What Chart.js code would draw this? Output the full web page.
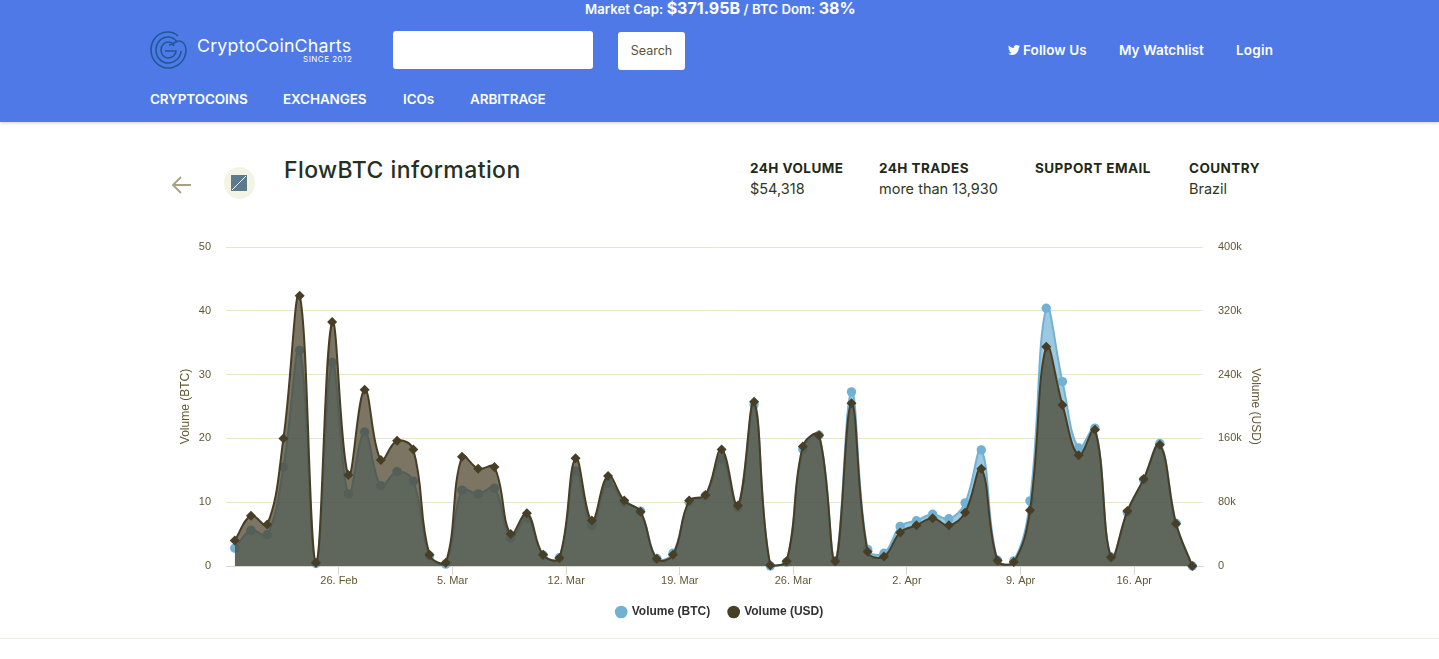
<!DOCTYPE html>
<html>
<head>
<meta charset="utf-8">
<title>FlowBTC information</title>
<script src="https://cdn.jsdelivr.net/npm/chart.js@4"></script>
<style>
html,body{margin:0;padding:0;width:1439px;height:659px;overflow:hidden;background:#fff;font-family:Inter,"Open Sans",sans-serif;}
div,span,a{position:absolute;white-space:nowrap;}
#top{left:0;top:0;width:1439px;height:122px;background:#4e79e6;box-shadow:0 1px 3px rgba(120,120,90,.35);}
.w{color:#fff;font-weight:600;font-size:13.5px;}
.nav{top:91px;letter-spacing:-.1px;}
#cap{left:585px;top:0;font-size:13.2px;line-height:17px;word-spacing:.2px;}
#cap b{font-size:16px;font-weight:700;}
#logoName{left:197px;top:35px;color:#fff;font-size:17.8px;font-weight:400;letter-spacing:.2px;}
#since{left:303px;top:54px;color:#fff;font-size:8px;letter-spacing:.5px;}
#search{left:393px;top:31px;width:200px;height:38px;background:#fff;border-radius:3px;}
#btn{left:618px;top:32px;width:67px;height:38px;background:#fff;border-radius:3px;color:#5a5238;font-size:12.5px;line-height:37px;text-align:center;}
h1{position:absolute;left:284px;top:156px;margin:0;font-size:23px;line-height:28px;font-weight:500;color:#26301f;letter-spacing:.42px;}
.lab{font-size:13.5px;font-weight:700;color:#1f2a16;top:160px;letter-spacing:.45px;}
.val{font-size:14.5px;color:#2f3824;top:180px;}
#wrap{position:absolute;left:170px;top:230px;width:1100px;height:398px;}
#rule{left:0;top:638px;width:1439px;height:1px;background:#efefdc;}
</style>
</head>
<body>
<div id="top"></div>
<div id="cap" class="w">Market Cap: <b>$371.95B</b> / BTC Dom: <b>38%</b></div>
<svg style="position:absolute;left:149px;top:30px" width="39" height="40" viewBox="0 0 39 40" fill="none" stroke="#1d5a94" stroke-width="1.6">
<path d="M29 6C26 3 23 2 19 2C9 2 2 10 2 20C2 30 10 38 19 38C29 38 37 30 37 20C37 15 34 11 30 11C26 11 24 15 20 15"/>
<path d="M28 12C26 9 23 7 19 7C12 7 7 13 7 20C7 27 12 33 19 33C26 33 32 27 32 21"/>
<path d="M25 16C24 13 21 12 19 12C15 12 12 16 12 20C12 24 15 28 19 28C23 28 27 25 27 21L16 21"/>
</svg>
<div id="logoName">CryptoCoinCharts</div>
<div id="since">SINCE 2012</div>
<div id="search"></div>
<div id="btn">Search</div>
<svg style="position:absolute;left:1008px;top:45px" width="12" height="10" viewBox="0 0 24 20"><path fill="#fff" d="M24 2.400c-.9.400-1.800.700-2.800.800 1-.600 1.800-1.600 2.200-2.700-1 .600-2 1-3.100 1.200C19.300.700 18 0 16.600 0c-2.700 0-4.900 2.200-4.900 4.900 0 .400 0 .800.100 1.100C7.700 5.800 4.100 3.900 1.700.900 1.200 1.600 1 2.500 1 3.400c0 1.700.900 3.200 2.200 4.100-.800 0-1.600-.200-2.200-.600v.100c0 2.400 1.700 4.400 3.900 4.800-.700.200-1.500.200-2.200.100.600 2 2.400 3.400 4.600 3.400C5.200 16.900 2.600 17.900 0 17.600 2.200 19 4.800 20 7.500 20c9.100 0 14-7.500 14-14v-.600c1-.700 1.800-1.600 2.500-3z"/></svg>
<div class="w" style="left:1023px;top:42px;letter-spacing:.1px">Follow Us</div>
<div class="w" style="left:1119px;top:42px">My Watchlist</div>
<div class="w" style="left:1236px;top:42px;letter-spacing:.2px">Login</div>
<div class="w nav" style="left:150px">CRYPTOCOINS</div>
<div class="w nav" style="left:283px">EXCHANGES</div>
<div class="w nav" style="left:403px">ICOs</div>
<div class="w nav" style="left:470px">ARBITRAGE</div>
<svg style="position:absolute;left:171px;top:176px" width="22" height="18" viewBox="0 0 22 18" fill="none" stroke="#a89f85" stroke-width="1.800"><path d="M20 9H2M10 1L2 9l8 8"/></svg>
<svg style="position:absolute;left:224px;top:167px" width="31" height="32" viewBox="0 0 31 32"><ellipse cx="15.500" cy="16" rx="15.500" ry="16" fill="#f3f4e3"/><rect x="7" y="8" width="16" height="16" fill="#5b7b8c"/><path d="M8 23L22 9" stroke="#fff" stroke-width="1"/></svg>
<h1>FlowBTC information</h1>
<div class="lab" style="left:750px">24H VOLUME</div>
<div class="val" style="left:750px">$54,318</div>
<div class="lab" style="left:879px">24H TRADES</div>
<div class="val" style="left:879px">more than 13,930</div>
<div class="lab" style="left:1035px">SUPPORT EMAIL</div>
<div class="lab" style="left:1189px">COUNTRY</div>
<div class="val" style="left:1189px">Brazil</div>
<div id="wrap"><canvas id="volumeChart" width="1100" height="398"></canvas></div>
<div id="rule"></div>
<script>
// days counted from 26 Feb
const days=[-6.42,-5.42,-4.42,-3.42,-2.42,-1.42,-0.42,0.58,1.58,2.58,3.58,4.58,5.58,6.58,7.58,8.58,9.58,10.58,11.58,12.58,13.58,14.58,15.58,16.58,17.58,18.58,19.58,20.58,21.58,22.58,23.58,24.58,25.58,26.58,27.58,28.58,29.58,30.58,31.58,32.58,33.58,34.58,35.58,36.58,37.58,38.58,39.58,40.58,41.58,42.58,43.58,44.58,45.58,46.58,47.58,48.58,49.58,50.58,51.58,52.58];
const volumeBtc=[2.8,5.6,4.9,15.5,33.8,0.4,31.9,11.3,21,12.6,14.8,13.3,1.6,0.3,11.9,11.3,12.2,4.4,7.5,1.7,1.3,14.9,6.4,13,10,8.6,1.2,2,10,11,16.8,9.2,25.3,0,0.6,18.3,20.5,0.8,27.3,2.6,2,6.2,7.1,8.1,7.4,9.9,18.2,0.9,0.8,10.2,40.4,28.9,18.5,21.6,1.4,8.4,13.5,19.2,6.7,0];
const volumeUsd=[32000,63000,52000,160000,339000,4000,306000,114000,221000,133000,157000,146000,14000,4000,137000,122000,124000,40000,66000,14000,10000,135000,57000,113000,82000,68000,9000,14000,82000,89000,146000,76000,206000,1000,6000,150000,164000,6000,204000,18000,12000,42000,51000,60000,51000,67000,122000,7000,5000,70000,275000,202000,139000,171000,11000,69000,109000,152000,53000,0];
const tickDays=[0,7,14,21,28,35,42,49];
const tickLabels=['26. Feb','5. Mar','12. Mar','19. Mar','26. Mar','2. Apr','9. Apr','16. Apr'];
const btcTicks=[0,10,20,30,40,50];
const usdTicks=['0','80k','160k','240k','320k','400k'];

const tickColor='#625734';
const gridColor='#e6e6c8';
const tickFont={family:'"Liberation Sans"',size:11};
const titleFont={family:'"Liberation Sans"',size:12};

function points(ys){
    return ys.map((y,i)=>({x:days[i],y:y}));
}

new Chart(document.getElementById('volumeChart'),{
    type:'line',
    data:{
        datasets:[
            {
                label:'Volume (BTC)',
                data:points(volumeBtc),
                yAxisID:'btc',
                order:2,
                borderColor:'rgb(113,178,212)',
                backgroundColor:'rgba(113,178,212,0.7)',
                pointBackgroundColor:'rgb(113,178,212)',
                pointBorderColor:'rgb(113,178,212)',
                pointStyle:'circle',
                pointRadius:4.7,
                fill:'origin'
            },
            {
                label:'Volume (USD)',
                data:points(volumeUsd),
                yAxisID:'usd',
                order:1,
                borderColor:'rgb(72,62,38)',
                backgroundColor:'rgba(72,62,38,0.715)',
                pointBackgroundColor:'rgb(72,62,38)',
                pointBorderColor:'rgb(72,62,38)',
                pointStyle:'rectRot',
                pointRadius:5,
                fill:'origin'
            }
        ]
    },
    options:{
        responsive:false,
        animation:false,
        devicePixelRatio:1,
        clip:false,
        layout:{autoPadding:false,padding:{top:17,bottom:0}},
        elements:{line:{tension:0.4,borderWidth:2},point:{borderWidth:0}},
        plugins:{
            tooltip:{enabled:false},
            legend:{
                position:'bottom',
                labels:{
                    usePointStyle:true,
                    pointStyle:'circle',
                    boxWidth:9,
                    boxHeight:9,
                    padding:19,
                    color:'#333',
                    font:{family:'"Liberation Sans"',size:12,weight:'bold'},
                    sort:(a,b)=>a.datasetIndex-b.datasetIndex
                }
            }
        },
        scales:{
            x:{
                type:'linear',
                min:-6.96,
                max:53.24,
                afterBuildTicks(scale){scale.ticks=tickDays.map(d=>({value:d}));},
                afterFit(scale){scale.height=21;},
                grid:{drawOnChartArea:false,drawTicks:true,tickLength:9,color:'#d8d8cc'},
                border:{color:'#d8d8cc'},
                ticks:{
                    color:tickColor,
                    font:tickFont,
                    padding:-1,
                    maxRotation:0,
                    autoSkip:false,
                    callback(v){return tickLabels[tickDays.indexOf(v)];}
                }
            },
            btc:{
                position:'left',
                min:0,
                max:50,
                afterBuildTicks(scale){scale.ticks=btcTicks.map(v=>({value:v}));},
                afterFit(scale){scale.width=56;},
                // transparent tick keeps the label gap without growing the top padding
                grid:{color:gridColor,drawTicks:true,tickLength:5,tickColor:'transparent'},
                border:{display:false},
                ticks:{color:tickColor,font:tickFont,padding:10},
                title:{display:true,text:'Volume (BTC)',color:tickColor,font:titleFont,padding:{top:8,bottom:0}}
            },
            usd:{
                position:'right',
                min:0,
                max:400000,
                afterBuildTicks(scale){scale.ticks=usdTicks.map((t,i)=>({value:i*80000}));},
                afterFit(scale){scale.width=67;},
                grid:{drawOnChartArea:false,drawTicks:true,tickLength:5,tickColor:'transparent'},
                border:{display:false},
                ticks:{
                    color:tickColor,
                    font:tickFont,
                    padding:10,
                    callback(v){return usdTicks[v/80000];}
                },
                title:{display:true,text:'Volume (USD)',color:tickColor,font:titleFont,padding:{top:7,bottom:0}}
            }
        }
    }
});
</script>
</body>
</html>
